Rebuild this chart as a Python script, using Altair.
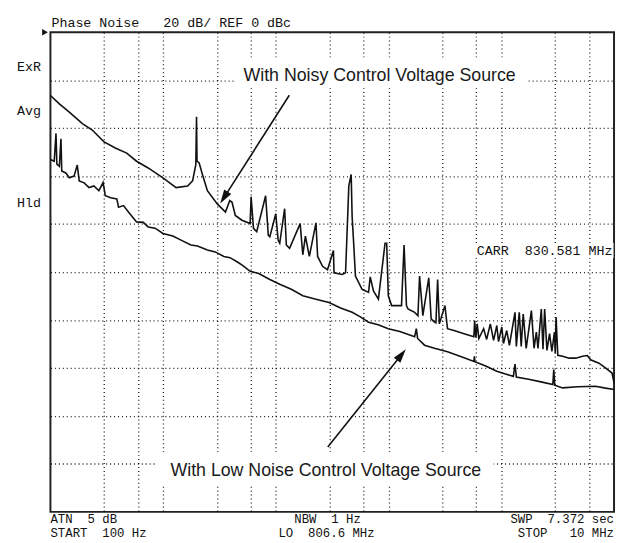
import altair as alt
import pandas as pd

# ---- trace data (offset frequency in Hz, phase noise in dBc) ----
noisy_hz = [100, 120, 147, 192, 235, 297, 376, 475, 581, 736, 996, 1302, 1649, 1824, 1949, 1977, 1997,
            2087, 2231, 2468, 3020, 3570, 3900, 4085, 4366, 5000, 5910, 6030, 6330, 6760, 8110, 8560,
            8840, 9980, 10470, 10820, 11960, 12380, 13230, 16420, 17340, 18280, 19810, 22680, 23460,
            25950, 28710, 32410, 32800, 38870, 41520, 44370, 46560, 47500, 49000, 50800, 58200, 66400,
            68700, 73400, 81200, 93000, 96200, 99400, 106400, 130200, 137200, 144000, 148700, 170300,
            182100, 188300, 201300, 227200, 238500, 255100, 263000, 272300, 282000, 316000, 333000,
            381000, 467000, 571000, 580000, 595000, 611000, 632000, 697000, 741000, 799000, 854000,
            912000, 945000, 1010000, 1045000, 1117000, 1180000, 1323000, 1359000, 1443000, 1502000,
            1564000, 1662000, 1849000, 1952000, 2045000, 2116000, 2263000, 2343000, 2424000, 2540000,
            2680000, 2810000, 2960000, 3010000, 3060000, 3170000, 3500000, 3990000, 4580000, 5250000,
            5800000, 6200000, 7350000, 8390000, 9600000, 10000000]
noisy_dbc = [-26.4, -29.9, -33.3, -38.1, -40.8, -45.6, -48.3, -50.4, -53.8, -56.6, -60.7, -64.8, -64.1,
             -62.0, -55.2, -35.3, -53.8, -54.5, -59.3, -66.1, -71.6, -75.0, -70.2, -70.9, -76.4, -78.4,
             -79.8, -68.6, -81.8, -83.2, -68.2, -84.6, -85.3, -75.7, -86.7, -88.0, -73.6, -88.7, -90.1,
             -79.8, -92.8, -85.0, -93.5, -79.5, -93.5, -97.6, -99.0, -91.0, -100.3, -101.0, -100.3,
             -64.1, -59.3, -77.1, -88.0, -101.7, -107.2, -108.5, -102.0, -107.9, -111.3, -88.0, -88.0,
             -109.9, -114.0, -114.0, -88.7, -114.0, -115.4, -116.8, -118.2, -101.7, -118.2, -102.4,
             -119.5, -120.9, -121.2, -103.1, -121.6, -114.0, -123.6, -124.4, -125.7, -127.0, -120.2,
             -127.3, -121.6, -127.7, -123.6, -128.1, -121.6, -128.5, -122.3, -129.0, -122.9, -129.8,
             -124.4, -130.6, -116.8, -131.0, -116.8, -131.0, -117.5, -131.8, -116.1, -131.8, -125.0,
             -131.8, -115.4, -132.2, -115.4, -132.7, -125.7, -133.1, -125.0, -133.9, -118.8, -134.7,
             -135.1, -135.9, -135.9, -135.1, -134.8, -136.6, -138.0, -140.0, -142.1, -146.2]

low_hz = [100, 108, 112, 114, 120, 124, 126, 137, 147, 162, 173, 180, 199, 220, 243, 269, 293, 307, 342,
          388, 402, 445, 492, 581, 666, 736, 848, 996, 1218, 1440, 1762, 2016, 2467, 2898, 3457, 3920,
          4520, 5100, 5910, 7040, 8840, 10820, 13700, 17340, 22680, 29600, 37500, 47500, 56200, 66400,
          80800, 99400, 125800, 170300, 176200, 180900, 208400, 255100, 333000, 430000, 571000, 577000,
          583000, 727000, 912000, 1088000, 1279000, 1323000, 1359000, 1791000, 2249000, 2865000,
          2920000, 2980000, 3500000, 4740000, 6860000, 8170000, 10000000]
low_dbc = [-53.1, -53.8, -42.2, -55.0, -55.9, -44.4, -57.9, -58.7, -60.7, -60.0, -55.4, -62.0, -62.8,
           -64.8, -64.1, -66.1, -62.7, -68.2, -69.0, -69.5, -73.0, -72.3, -75.0, -79.1, -79.3, -81.2,
           -81.7, -83.9, -85.0, -86.7, -88.7, -89.1, -90.8, -91.6, -93.5, -94.0, -95.7, -97.3, -99.7,
           -100.6, -103.1, -105.1, -107.2, -109.9, -111.3, -112.7, -115.0, -116.8, -118.7, -120.9,
           -122.0, -123.6, -124.8, -127.0, -123.6, -127.7, -130.5, -131.8, -133.2, -135.1, -137.3,
           -135.1, -137.4, -139.2, -141.4, -142.5, -143.5, -138.4, -143.8, -144.8, -145.8, -146.9,
           -140.7, -147.2, -148.3, -147.8, -147.6, -148.3, -149.0]

# graticule: log frequency lines and 20 dB/div
grid_hz = [300, 600, 1000, 3000, 6000, 10000, 30000, 60000, 100000, 300000, 600000,
           1000000, 3000000, 6000000]
grid_dbc = [-20, -40, -60, -80, -100, -120, -140, -160, -180]

# annotations (data coordinates)
label_text = ["With Noisy Control Voltage Source", "With Low Noise Control Voltage Source"]
label_hz = [83200, 27750]
label_dbc = [-20.2, -184.9]
box_hz = [4255, 865]
box_hz2 = [1730000, 854000]
box_dbc = [-11.1, -175.0]
box_dbc2 = [-23.4, -188.9]

arrow_id = ["noisy", "noisy", "low", "low"]
arrow_hz = [13150, 3463, 28880, 130000]
arrow_dbc = [-26.3, -69.0, -172.9, -134.5]
head_hz = [3463, 130000]
head_dbc = [-69.0, -134.5]
head_angle = [212.5, 38.6]

mono_top_text = ["Phase\u00a0Noise\u00a0\u00a0\u00a020\u00a0dB/\u00a0REF\u00a00\u00a0dBc", "ExR", "Avg", "Hld"]
mono_top_hz = [102, 50.4, 50.4, 50.4]
mono_top_dbc = [2.3, -16.1, -34.6, -73.0]
mono_bl_text = ["ATN\u00a0\u00a05\u00a0dB", "START\u00a0\u00a0100\u00a0Hz",
                "NBW\u00a0\u00a01\u00a0Hz", "LO\u00a0\u00a0806.6\u00a0MHz"]
mono_bl_hz = [100, 100, 14550, 10540]
mono_bl_dbc = [-204.7, -210.4, -204.7, -210.4]
mono_br_text = ["SWP\u00a0\u00a07.372\u00a0sec", "STOP\u00a0\u00a0\u00a010\u00a0MHz"]
mono_br_hz = [10000000, 10000000]
mono_br_dbc = [-204.7, -210.4]
carr_text = ["CARR\u00a0\u00a0830.581\u00a0MHz"]
carr_hz = [9700000]
carr_dbc = [-92.8]
carr_box_hz = [537000]
carr_box_hz2 = [9900000]
carr_box_dbc = [-87.9]
carr_box_dbc2 = [-94.1]
marker_hz = [89.5]
marker_dbc = [0]

# ---- chart ----
xs = alt.Scale(type="log", domain=[100, 10000000], nice=False)
ys = alt.Scale(domain=[-200, 0], nice=False, zero=False)
x_axis = alt.Axis(values=grid_hz, labels=False, ticks=False, domain=False, title=None,
                  grid=True, gridDash=[1, 3], gridColor="#000000", gridWidth=1.3, gridOpacity=0.9)
y_axis = alt.Axis(values=grid_dbc, labels=False, ticks=False, domain=False, title=None,
                  grid=True, gridDash=[1, 3], gridColor="#000000", gridWidth=1.3, gridOpacity=0.9)


def X(field="f"):
    return alt.X(f"{field}:Q", scale=xs, axis=x_axis)


def Y(field="db"):
    return alt.Y(f"{field}:Q", scale=ys, axis=y_axis)


noisy_df = pd.DataFrame({"f": noisy_hz, "db": noisy_dbc, "i": range(len(noisy_hz))})
low_df = pd.DataFrame({"f": low_hz, "db": low_dbc, "i": range(len(low_hz))})
box_df = pd.DataFrame({"f": box_hz + carr_box_hz, "f2": box_hz2 + carr_box_hz2,
                       "db": box_dbc + carr_box_dbc, "db2": box_dbc2 + carr_box_dbc2})
label_df = pd.DataFrame({"t": label_text, "f": label_hz, "db": label_dbc})
arrow_df = pd.DataFrame({"a": arrow_id, "f": arrow_hz, "db": arrow_dbc})
head_df = pd.DataFrame({"f": head_hz, "db": head_dbc, "ang": head_angle})
mt_df = pd.DataFrame({"t": mono_top_text, "f": mono_top_hz, "db": mono_top_dbc})
bl_df = pd.DataFrame({"t": mono_bl_text, "f": mono_bl_hz, "db": mono_bl_dbc})
br_df = pd.DataFrame({"t": mono_br_text, "f": mono_br_hz, "db": mono_br_dbc})
carr_df = pd.DataFrame({"t": carr_text, "f": carr_hz, "db": carr_dbc})
mk_df = pd.DataFrame({"f": marker_hz, "db": marker_dbc})

boxes = alt.Chart(box_df).mark_rect(color="white").encode(
    x=X(), x2="f2:Q", y=Y(), y2="db2:Q")

noisy = alt.Chart(noisy_df).mark_line(color="#111111", strokeWidth=1.6, strokeJoin="miter").encode(
    x=X(), y=Y(), order="i:Q")
low = alt.Chart(low_df).mark_line(color="#111111", strokeWidth=1.6, strokeJoin="miter").encode(
    x=X(), y=Y(), order="i:Q")

arrows = alt.Chart(arrow_df).mark_line(color="#111111", strokeWidth=1.6).encode(
    x=X(), y=Y(), detail="a:N")
heads = alt.Chart(head_df).mark_point(
    shape="M0,-1L0.6,1L-0.6,1Z", filled=True, color="#111111", size=200, opacity=1
).encode(x=X(), y=Y(), angle=alt.Angle("ang:Q", scale=None))

labels = alt.Chart(label_df).mark_text(
    font="Liberation Sans", fontSize=18, align="center", baseline="alphabetic", color="#1a1a1a"
).encode(x=X(), y=Y(), text="t:N")

mono_t = alt.Chart(mt_df).mark_text(
    font="Liberation Mono", fontSize=13.5, align="left", baseline="alphabetic", color="#111111"
).encode(x=X(), y=Y(), text="t:N")
mono_bl = alt.Chart(bl_df).mark_text(
    font="Liberation Mono", fontSize=12.5, align="left", baseline="alphabetic", color="#111111"
).encode(x=X(), y=Y(), text="t:N")
mono_br = alt.Chart(br_df).mark_text(
    font="Liberation Mono", fontSize=12.5, align="right", baseline="alphabetic", color="#111111"
).encode(x=X(), y=Y(), text="t:N")
carr = alt.Chart(carr_df).mark_text(
    font="Liberation Mono", fontSize=13.5, align="right", baseline="alphabetic", color="#111111"
).encode(x=X(), y=Y(), text="t:N")

marker = alt.Chart(mk_df).mark_point(
    shape="triangle-right", filled=True, color="#111111", size=45, opacity=1
).encode(x=X(), y=Y())

chart = alt.layer(boxes, noisy, low, arrows, heads, labels, mono_t, mono_bl, mono_br, carr,
                  marker).properties(
    width=571, height=486,
    autosize=alt.AutoSizeParams(type="none"),
    padding={"left": 43, "top": 21, "right": 2, "bottom": 27},
    background="white",
).configure_view(stroke="#222222", strokeWidth=2)

chart.save("out.html", embed_options={"renderer": "svg", "actions": False})
